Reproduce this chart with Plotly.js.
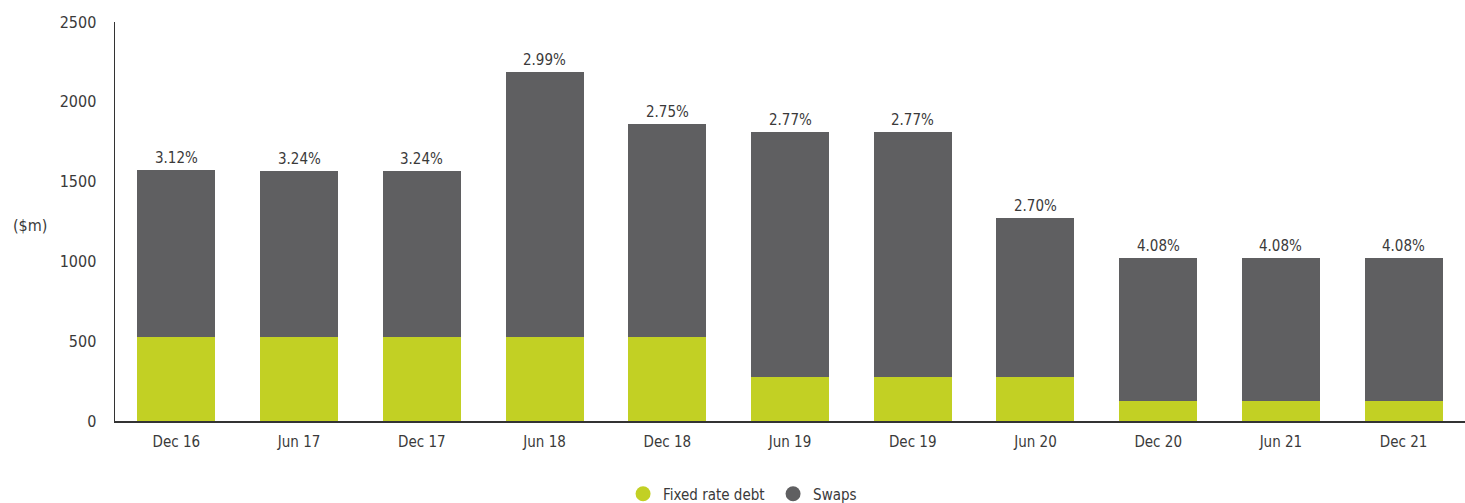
<!DOCTYPE html>
<html>
<head>
<meta charset="utf-8">
<script src="https://cdn.plot.ly/plotly-3.0.1.min.js"></script>
<style>html,body{margin:0;padding:0;background:#fff;}#chart{width:1465px;height:503px;}</style>
</head>
<body>
<div id="chart"></div>
<script>
const categories = ["Dec 16","Jun 17","Dec 17","Jun 18","Dec 18","Jun 19","Dec 19","Jun 20","Dec 20","Jun 21","Dec 21"];
const fixedRateDebt = [525, 525, 525, 525, 525, 275, 275, 275, 125, 125, 125];
const swaps = [1045, 1040, 1040, 1660, 1335, 1535, 1535, 995, 895, 895, 895];
const rateLabels = ["3.12%","3.24%","3.24%","2.99%","2.75%","2.77%","2.77%","2.70%","4.08%","4.08%","4.08%"];
const yTicks = [0, 500, 1000, 1500, 2000, 2500];

const GREEN = "#c2d024";
const GREY = "#5f5f61";
const TEXT = "#3a3a3a";
const FONT = "'DejaVu Sans Condensed', 'Liberation Sans Narrow', sans-serif";

const traces = [
  {type: "bar", name: "Fixed rate debt", x: categories, y: fixedRateDebt,
   marker: {color: GREEN}, showlegend: false, hoverinfo: "skip"},
  {type: "bar", name: "Swaps", x: categories, y: swaps,
   marker: {color: GREY}, showlegend: false, hoverinfo: "skip"},
  {type: "scatter", mode: "markers", name: "Fixed rate debt", x: [null], y: [null],
   marker: {color: GREEN, size: 15, symbol: "circle"}, showlegend: true},
  {type: "scatter", mode: "markers", name: "Swaps", x: [null], y: [null],
   marker: {color: GREY, size: 15, symbol: "circle"}, showlegend: true}
];

const annotations = categories.map((c, i) => ({
  x: c, y: fixedRateDebt[i] + swaps[i], xref: "x", yref: "y",
  text: rateLabels[i], showarrow: false, yanchor: "bottom", yshift: 1,
  font: {family: FONT, size: 15, color: TEXT}
}));
annotations.push({
  xref: "paper", yref: "paper", x: -0.063, y: 0.49, text: "($m)", showarrow: false,
  xanchor: "center", yanchor: "middle", font: {family: FONT, size: 16, color: TEXT}
});

const layout = {
  width: 1465, height: 503,
  margin: {l: 115, r: 0, t: 22, b: 82},
  paper_bgcolor: "#ffffff", plot_bgcolor: "#ffffff",
  font: {family: FONT, color: TEXT},
  barmode: "stack", bargap: 0.364,
  xaxis: {
    type: "category", showgrid: false, zeroline: false,
    showline: true, linecolor: "#333333", linewidth: 1.5,
    ticks: "", tickfont: {family: FONT, size: 15, color: TEXT}, ticklabelstandoff: 6
  },
  yaxis: {
    range: [0, 2500], tickvals: yTicks, showgrid: false, zeroline: false,
    showline: true, linecolor: "#333333", linewidth: 1.5,
    ticks: "", tickfont: {family: FONT, size: 16, color: TEXT}, ticklabelstandoff: 14
  },
  legend: {
    orientation: "h", xref: "container", yref: "container", traceorder: "normal",
    x: 0.4253, xanchor: "left", y: 0.018, yanchor: "middle",
    font: {family: FONT, size: 15, color: TEXT}, itemwidth: 30, tracegroupgap: 0,
    entrywidth: 105, entrywidthmode: "pixels"
  },
  annotations: annotations,
  showlegend: true
};

Plotly.newPlot("chart", traces, layout, {displayModeBar: false, staticPlot: true});
</script>
</body>
</html>
